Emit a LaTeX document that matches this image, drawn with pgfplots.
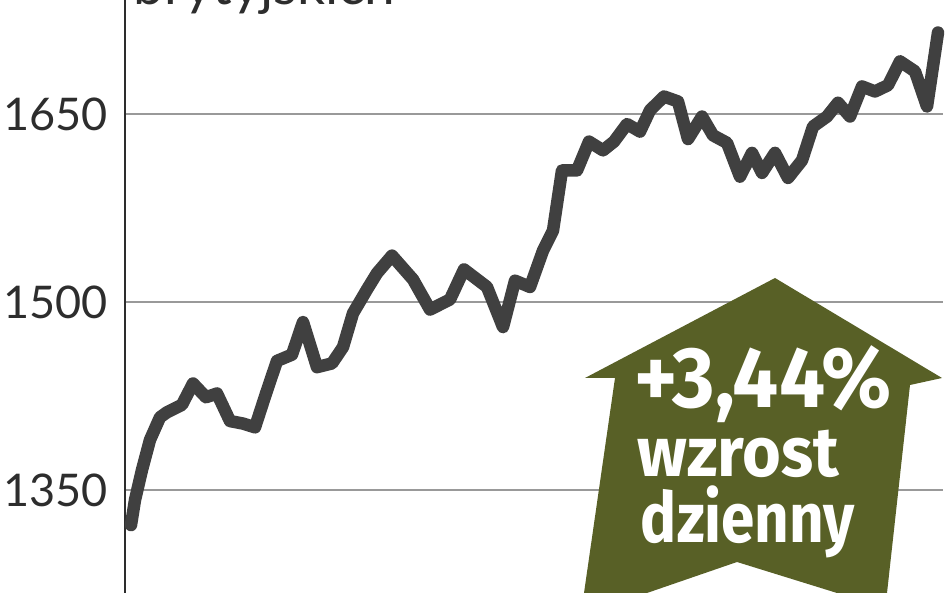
\documentclass[border=0pt]{standalone}
\usepackage{fontspec}
\setmainfont{Lato}
\newfontfamily\arrowfontA[FakeStretch=0.95]{Fira Sans}
\newfontfamily\arrowfontB[FakeStretch=0.95]{Fira Sans}
\newfontfamily\arrowfontC[FakeStretch=0.86]{Fira Sans}
\usepackage{pgfplots}
\pgfplotsset{compat=1.18}
\definecolor{linegray}{RGB}{64,64,64}
\definecolor{olive}{RGB}{88,96,38}
\definecolor{txtgray}{RGB}{45,45,45}
\begin{document}
\begin{tikzpicture}[x=1pt,y=1pt]
\useasboundingbox (0,0) rectangle (948,593);
\begin{axis}[
  at={(125pt,0pt)}, anchor=south west,
  scale only axis, width=818pt, height=593pt,
  xmin=125, xmax=943, ymin=1267.8, ymax=1741,
  axis x line=none, axis y line*=left,
  axis line style={line width=2pt, color=txtgray},
  ytick={1350,1500,1650}, yticklabels={1350,1500,1650},
  major tick length=0pt,
  ymajorgrids, grid style={line width=2pt, color=black!40},
  yticklabel style={font=\fontsize{45}{50}\selectfont, text=txtgray, anchor=east, inner sep=0pt, xshift=-17pt},
  clip=false,
]
\addplot[line width=12.5pt, color=linegray, line join=round, line cap=round] coordinates {
(131,1322) (135,1342) (142,1366) (150,1390) (160,1408) (167,1412) (182,1418)
(193,1435) (206,1424) (217,1427) (230,1405) (243,1403) (255,1400) (266,1427)
(277,1453) (292,1458) (303,1484) (317,1448) (332,1451) (343,1464) (353,1491)
(367,1510) (377,1523) (392,1537) (413,1518) (430,1494) (450,1502) (464,1526)
(487,1512) (503,1480) (515,1517) (530,1512) (543,1541) (553,1557) (562,1605)
(577,1605) (589,1628) (603,1621) (614,1628) (627,1642) (640,1636) (650,1653)
(664,1664) (678,1660) (688,1630) (702,1648) (713,1633) (727,1627) (740,1600)
(752,1619) (762,1603) (775,1619) (788,1599) (802,1613) (813,1640) (827,1648)
(838,1659) (850,1648) (862,1672) (875,1668) (888,1673) (900,1692) (915,1684)
(927,1656) (938,1715)
};
\end{axis}
\node[anchor=base west, font=\fontsize{55}{60}\selectfont, text=txtgray, inner sep=0pt] at (133,588) {brytyjskich};
\fill[olive] (775,315) -- (942,215) -- (910,208) -- (887,0) -- (837,0) -- (737,31) -- (647,0) -- (584,0) -- (615,215) -- (585,215) -- cycle;
\node[anchor=base, font=\arrowfontA\bfseries\fontsize{86}{86}\selectfont, text=white, inner sep=0pt] at (763,185) {+3,44\%};
\node[anchor=base, font=\arrowfontB\bfseries\fontsize{70}{70}\selectfont, text=white, inner sep=0pt] at (738,116) {wzrost};
\node[anchor=base, font=\arrowfontC\bfseries\fontsize{70}{70}\selectfont, text=white, inner sep=0pt] at (748,50) {dzienny};
\end{tikzpicture}
\end{document}
